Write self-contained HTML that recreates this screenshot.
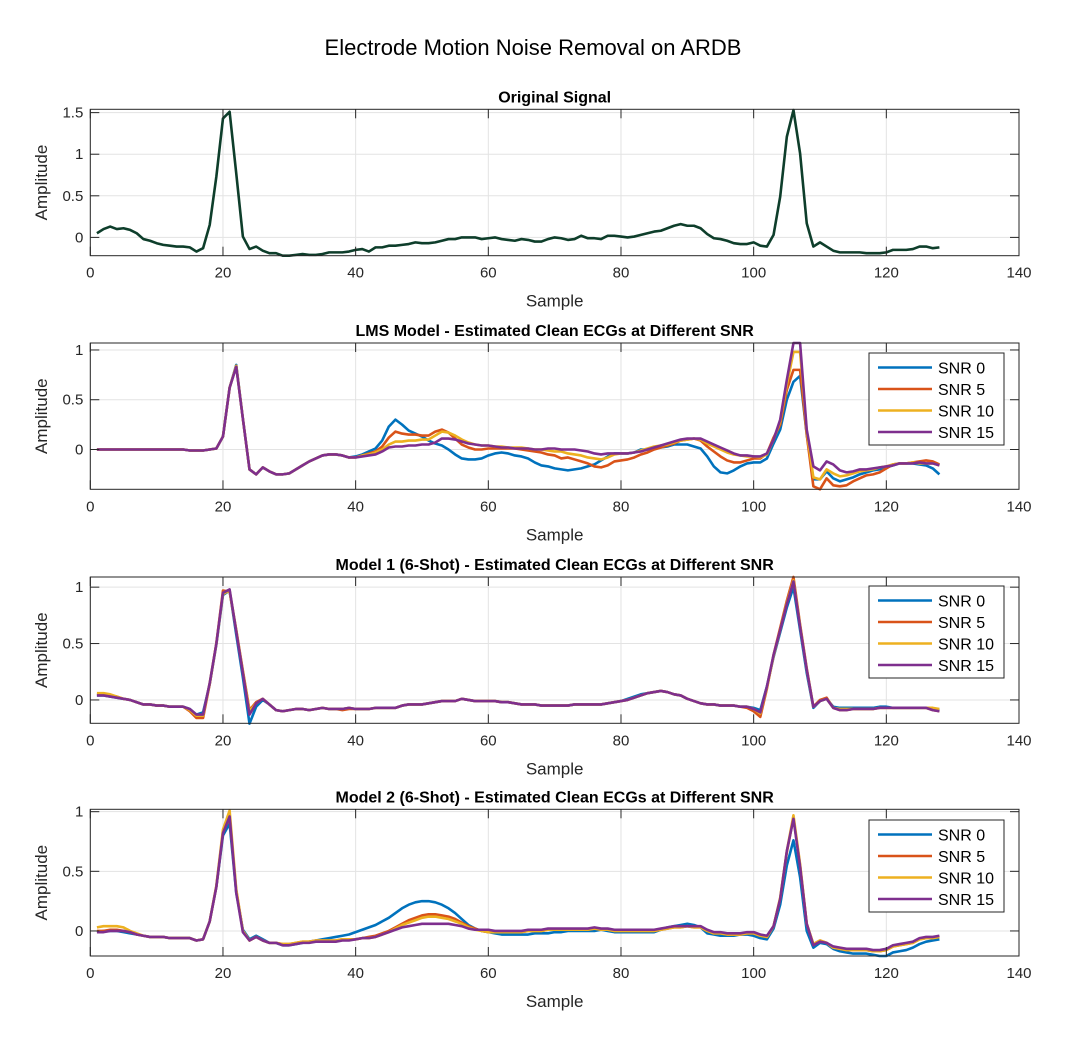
<!DOCTYPE html>
<html><head><meta charset="utf-8">
<style>
html,body{margin:0;padding:0;background:#fff;}
svg{display:block;font-family:"Liberation Sans",Arial,sans-serif;}
</style></head>
<body>
<svg id="fig" width="1088" height="1050" viewBox="0 0 1088 1050">
<text x="533" y="55" font-size="22" text-anchor="middle" fill="#000">Electrode Motion Noise Removal on ARDB</text>
</svg>
<script>
const xTicks=[0,20,40,60,80,100,140,120];
const origSignal=[0.05,0.10,0.13,0.10,0.11,0.09,0.05,-0.02,-0.04,-0.07,
-0.09,-0.10,-0.11,-0.11,-0.12,-0.17,-0.13,0.15,0.73,1.43,
1.51,0.77,0.01,-0.14,-0.11,-0.16,-0.19,-0.19,-0.22,-0.22,
-0.21,-0.20,-0.21,-0.21,-0.20,-0.18,-0.18,-0.18,-0.17,-0.15,
-0.14,-0.17,-0.12,-0.12,-0.10,-0.10,-0.09,-0.08,-0.06,-0.07,
-0.07,-0.06,-0.04,-0.02,-0.02,0,0,0,-0.02,-0.01,
0,-0.02,-0.03,-0.04,-0.02,-0.03,-0.05,-0.05,-0.02,0,
-0.01,-0.03,-0.02,0.02,-0.01,-0.01,-0.02,0.02,0.02,0.01,
0,0.01,0.03,0.05,0.07,0.08,0.11,0.14,0.16,0.14,
0.14,0.11,0.04,-0.01,-0.02,-0.04,-0.07,-0.08,-0.08,-0.06,
-0.10,-0.11,0.03,0.49,1.21,1.53,1.01,0.17,-0.11,-0.06,
-0.11,-0.16,-0.18,-0.18,-0.18,-0.18,-0.19,-0.19,-0.19,-0.18,
-0.15,-0.15,-0.15,-0.14,-0.11,-0.11,-0.13,-0.12];

const lmsSnr0=[0,0,0,0,0,0,0,0,0,0, 0,0,0,0,-0.01,-0.01,-0.01,0,0.01,0.13,
0.62,0.85,0.31,-0.20,-0.25,-0.18,-0.22,-0.25,-0.25,-0.24, -0.20,-0.16,-0.12,-0.09,-0.06,-0.05,-0.05,-0.06,-0.08,-0.07,
-0.05,-0.02,0.01,0.09,0.23,0.30,0.25,0.19,0.16,0.13, 0.09,0.06,0.04,0,-0.05,-0.09,-0.10,-0.10,-0.09,-0.06,
-0.04,-0.03,-0.04,-0.06,-0.07,-0.09,-0.13,-0.16,-0.17,-0.19, -0.20,-0.21,-0.20,-0.19,-0.17,-0.15,-0.11,-0.07,-0.04,-0.04,
-0.04,-0.03,0,0,0.01,0.02,0.03,0.05,0.05,0.05, 0.03,0.01,-0.07,-0.17,-0.23,-0.24,-0.21,-0.17,-0.14,-0.13,
-0.13,-0.09,0.06,0.20,0.50,0.68,0.74,0.15,-0.30,-0.30, -0.22,-0.29,-0.32,-0.30,-0.28,-0.25,-0.23,-0.21,-0.20,-0.18,
-0.16,-0.14,-0.14,-0.14,-0.15,-0.16,-0.19,-0.25];
const lmsSnr5=[0,0,0,0,0,0,0,0,0,0, 0,0,0,0,-0.01,-0.01,-0.01,0,0.01,0.13,
0.62,0.84,0.31,-0.20,-0.25,-0.18,-0.22,-0.25,-0.25,-0.24, -0.20,-0.16,-0.12,-0.09,-0.06,-0.05,-0.05,-0.06,-0.08,-0.08,
-0.06,-0.04,-0.02,0.03,0.12,0.18,0.16,0.15,0.15,0.14, 0.14,0.18,0.20,0.17,0.11,0.05,0.02,0,0,0.01,
0.01,0.01,0.01,0.01,0,-0.01,-0.02,-0.03,-0.05,-0.06, -0.09,-0.08,-0.10,-0.12,-0.14,-0.17,-0.18,-0.16,-0.12,-0.11,
-0.10,-0.08,-0.05,-0.03,0,0.02,0.04,0.06,0.09,0.10, 0.11,0.09,0.03,-0.02,-0.07,-0.11,-0.13,-0.13,-0.11,-0.09,
-0.09,-0.04,0.12,0.25,0.60,0.80,0.80,0.15,-0.37,-0.40, -0.29,-0.36,-0.37,-0.36,-0.32,-0.29,-0.26,-0.25,-0.23,-0.19,
-0.15,-0.14,-0.14,-0.13,-0.12,-0.11,-0.12,-0.15];
const lmsSnr10=[0,0,0,0,0,0,0,0,0,0, 0,0,0,0,-0.01,-0.01,-0.01,0,0.01,0.13,
0.62,0.84,0.31,-0.20,-0.25,-0.18,-0.22,-0.25,-0.25,-0.24, -0.20,-0.16,-0.12,-0.09,-0.06,-0.05,-0.05,-0.06,-0.08,-0.08,
-0.06,-0.05,-0.03,0,0.05,0.08,0.08,0.09,0.09,0.10, 0.10,0.14,0.18,0.17,0.14,0.10,0.07,0.05,0.04,0.04,
0.03,0.03,0.02,0.02,0.02,0.01,0,0,-0.01,-0.02, -0.02,-0.04,-0.05,-0.06,-0.08,-0.09,-0.10,-0.08,-0.05,-0.04,
-0.04,-0.03,-0.01,0.01,0.03,0.04,0.05,0.07,0.09,0.10, 0.11,0.10,0.06,0.03,0,-0.03,-0.05,-0.06,-0.07,-0.07,
-0.08,-0.05,0.10,0.28,0.65,0.98,0.98,0.18,-0.28,-0.30, -0.20,-0.24,-0.27,-0.26,-0.24,-0.22,-0.21,-0.20,-0.18,-0.17,
-0.15,-0.14,-0.14,-0.13,-0.14,-0.14,-0.14,-0.16];
const lmsSnr15=[0,0,0,0,0,0,0,0,0,0, 0,0,0,0,-0.01,-0.01,-0.01,0,0.01,0.13,
0.62,0.83,0.31,-0.20,-0.25,-0.18,-0.22,-0.25,-0.25,-0.24, -0.20,-0.16,-0.12,-0.09,-0.06,-0.05,-0.05,-0.06,-0.08,-0.08,
-0.07,-0.06,-0.05,-0.02,0.02,0.03,0.03,0.04,0.04,0.05, 0.05,0.07,0.11,0.11,0.10,0.08,0.06,0.05,0.04,0.04,
0.03,0.02,0.02,0.01,0.01,0.01,0,0,0.01,0.01, 0,0,0,-0.01,-0.02,-0.04,-0.05,-0.04,-0.04,-0.04,
-0.04,-0.03,-0.02,0,0.02,0.04,0.06,0.08,0.10,0.11, 0.11,0.11,0.08,0.05,0.02,-0.01,-0.04,-0.06,-0.06,-0.07,
-0.07,-0.04,0.10,0.30,0.70,1.07,1.07,0.20,-0.17,-0.21, -0.12,-0.15,-0.21,-0.23,-0.22,-0.20,-0.20,-0.19,-0.18,-0.17,
-0.16,-0.14,-0.14,-0.14,-0.13,-0.14,-0.14,-0.16];

const m1Snr0=[0.04,0.04,0.03,0.02,0.01,0,-0.02,-0.04,-0.04,-0.05,
-0.05,-0.06,-0.06,-0.06,-0.08,-0.13,-0.11,0.14,0.49,0.93,
0.97,0.58,0.20,-0.21,-0.06,0.00,-0.04,-0.09,-0.10,-0.09,
-0.08,-0.08,-0.09,-0.08,-0.07,-0.08,-0.08,-0.08,-0.07,-0.08,
-0.08,-0.08,-0.07,-0.07,-0.07,-0.07,-0.05,-0.04,-0.04,-0.04,
-0.03,-0.02,-0.01,-0.01,-0.01,0.01,0,-0.01,-0.01,-0.01,
-0.01,-0.02,-0.02,-0.03,-0.04,-0.04,-0.04,-0.05,-0.05,-0.05,
-0.05,-0.05,-0.04,-0.04,-0.04,-0.04,-0.04,-0.03,-0.02,-0.01,
0.01,0.03,0.05,0.06,0.07,0.08,0.07,0.05,0.04,0.01,
-0.01,-0.03,-0.04,-0.04,-0.05,-0.05,-0.05,-0.06,-0.06,-0.07,
-0.09,0.12,0.38,0.60,0.82,1.00,0.62,0.24,-0.07,-0.01,
0.01,-0.06,-0.07,-0.07,-0.07,-0.07,-0.07,-0.07,-0.06,-0.06,
-0.07,-0.07,-0.07,-0.07,-0.07,-0.07,-0.08,-0.09];
const m1Snr5=[0.05,0.05,0.04,0.03,0.01,0,-0.02,-0.04,-0.04,-0.05,
-0.05,-0.06,-0.06,-0.06,-0.10,-0.16,-0.16,0.14,0.50,0.97,
0.96,0.62,0.26,-0.09,-0.02,0.01,-0.04,-0.09,-0.10,-0.09,
-0.08,-0.08,-0.09,-0.08,-0.07,-0.08,-0.08,-0.09,-0.08,-0.08,
-0.08,-0.08,-0.07,-0.07,-0.07,-0.07,-0.05,-0.04,-0.04,-0.04,
-0.03,-0.02,-0.01,-0.01,-0.01,0.01,0,-0.01,-0.01,-0.01,
-0.01,-0.02,-0.02,-0.03,-0.04,-0.04,-0.04,-0.05,-0.05,-0.05,
-0.05,-0.05,-0.04,-0.04,-0.04,-0.04,-0.04,-0.03,-0.02,-0.01,
0,0.02,0.04,0.06,0.07,0.08,0.07,0.05,0.04,0.01,
-0.01,-0.03,-0.04,-0.04,-0.05,-0.05,-0.05,-0.06,-0.07,-0.10,
-0.15,0.10,0.40,0.64,0.88,1.09,0.67,0.28,-0.06,0.00,
0.02,-0.07,-0.09,-0.09,-0.08,-0.08,-0.08,-0.08,-0.07,-0.07,
-0.07,-0.07,-0.07,-0.07,-0.07,-0.07,-0.09,-0.10];
const m1Snr10=[0.06,0.06,0.05,0.03,0.01,0,-0.02,-0.04,-0.04,-0.05,
-0.05,-0.06,-0.06,-0.06,-0.09,-0.14,-0.14,0.15,0.50,0.94,
0.97,0.62,0.25,-0.10,-0.03,0.01,-0.04,-0.09,-0.10,-0.09,
-0.08,-0.08,-0.09,-0.08,-0.07,-0.08,-0.08,-0.08,-0.07,-0.08,
-0.08,-0.08,-0.07,-0.07,-0.07,-0.07,-0.05,-0.04,-0.04,-0.04,
-0.03,-0.02,-0.01,-0.01,-0.01,0.01,0,-0.01,-0.01,-0.01,
-0.01,-0.02,-0.02,-0.03,-0.04,-0.04,-0.04,-0.05,-0.05,-0.05,
-0.05,-0.05,-0.04,-0.04,-0.04,-0.04,-0.04,-0.03,-0.02,-0.01,
0,0.02,0.04,0.06,0.07,0.08,0.07,0.05,0.04,0.01,
-0.01,-0.03,-0.04,-0.04,-0.05,-0.05,-0.05,-0.06,-0.06,-0.08,
-0.12,0.11,0.39,0.62,0.86,1.06,0.66,0.27,-0.06,-0.01,
0.01,-0.07,-0.08,-0.08,-0.08,-0.08,-0.08,-0.08,-0.07,-0.07,
-0.07,-0.07,-0.07,-0.07,-0.07,-0.07,-0.07,-0.08];
const m1Snr15=[0.04,0.04,0.03,0.02,0.01,0,-0.02,-0.04,-0.04,-0.05,
-0.05,-0.06,-0.06,-0.06,-0.08,-0.13,-0.13,0.15,0.50,0.95,
0.98,0.61,0.24,-0.13,-0.03,0.01,-0.04,-0.09,-0.10,-0.09,
-0.08,-0.08,-0.09,-0.08,-0.07,-0.08,-0.08,-0.08,-0.07,-0.08,
-0.08,-0.08,-0.07,-0.07,-0.07,-0.07,-0.05,-0.04,-0.04,-0.04,
-0.03,-0.02,-0.01,-0.01,-0.01,0.01,0,-0.01,-0.01,-0.01,
-0.01,-0.02,-0.02,-0.03,-0.04,-0.04,-0.04,-0.05,-0.05,-0.05,
-0.05,-0.05,-0.04,-0.04,-0.04,-0.04,-0.04,-0.03,-0.02,-0.01,
0,0.02,0.04,0.06,0.07,0.08,0.07,0.05,0.04,0.01,
-0.01,-0.03,-0.04,-0.04,-0.05,-0.05,-0.05,-0.06,-0.06,-0.08,
-0.11,0.12,0.40,0.62,0.85,1.05,0.65,0.27,-0.06,-0.01,
0.01,-0.07,-0.09,-0.09,-0.08,-0.08,-0.08,-0.08,-0.07,-0.07,
-0.07,-0.07,-0.07,-0.07,-0.07,-0.07,-0.09,-0.10];

const m2Snr0=[-0.01,0,0,0,-0.01,-0.02,-0.03,-0.04,-0.05,-0.05,
-0.05,-0.06,-0.06,-0.06,-0.06,-0.08,-0.07,0.08,0.37,0.80,
0.90,0.32,0.01,-0.07,-0.04,-0.07,-0.10,-0.10,-0.12,-0.12,
-0.11,-0.10,-0.09,-0.08,-0.07,-0.06,-0.05,-0.04,-0.03,-0.01,
0.01,0.03,0.05,0.08,0.11,0.15,0.19,0.22,0.24,0.25,
0.25,0.24,0.22,0.19,0.15,0.10,0.05,0.02,0,-0.01,
-0.02,-0.03,-0.03,-0.03,-0.03,-0.03,-0.02,-0.02,-0.02,-0.01,
-0.01,0,0,0,0,0,0.01,0,-0.01,-0.01,
-0.01,-0.01,-0.01,-0.01,-0.01,0.01,0.03,0.04,0.05,0.06,
0.05,0.03,-0.02,-0.03,-0.04,-0.04,-0.04,-0.03,-0.03,-0.04,
-0.06,-0.07,0.02,0.22,0.55,0.76,0.45,0.00,-0.14,-0.10,
-0.11,-0.15,-0.17,-0.18,-0.19,-0.19,-0.19,-0.20,-0.21,-0.21,
-0.18,-0.17,-0.16,-0.14,-0.11,-0.09,-0.08,-0.07];
const m2Snr5=[0,0,0.01,0.01,0,-0.01,-0.03,-0.04,-0.05,-0.05,
-0.05,-0.06,-0.06,-0.06,-0.06,-0.08,-0.07,0.08,0.37,0.83,
0.95,0.34,0,-0.08,-0.05,-0.08,-0.10,-0.10,-0.11,-0.11,
-0.10,-0.09,-0.09,-0.08,-0.08,-0.08,-0.08,-0.07,-0.07,-0.07,
-0.06,-0.05,-0.04,-0.02,0,0.03,0.06,0.09,0.11,0.13,
0.14,0.14,0.13,0.12,0.10,0.07,0.04,0.02,0,-0.01,
-0.01,-0.01,-0.01,-0.01,-0.01,0,0,0,0.01,0.01,
0.01,0.01,0.01,0.01,0.01,0.02,0.01,0.01,0,0,
0,0,0,0,0,0.01,0.02,0.03,0.03,0.04,
0.03,0.03,0,-0.02,-0.02,-0.03,-0.03,-0.03,-0.02,-0.02,
-0.04,-0.05,0.04,0.27,0.66,0.95,0.55,0.06,-0.11,-0.08,
-0.10,-0.14,-0.15,-0.16,-0.16,-0.16,-0.16,-0.17,-0.17,-0.16,
-0.13,-0.12,-0.11,-0.10,-0.07,-0.06,-0.06,-0.05];
const m2Snr10=[0.03,0.04,0.04,0.04,0.03,0,-0.02,-0.04,-0.05,-0.05,
-0.05,-0.06,-0.06,-0.06,-0.06,-0.08,-0.07,0.08,0.38,0.85,
1.01,0.35,0,-0.08,-0.05,-0.08,-0.10,-0.10,-0.11,-0.11,
-0.10,-0.09,-0.09,-0.08,-0.08,-0.08,-0.08,-0.07,-0.07,-0.07,
-0.06,-0.06,-0.05,-0.03,-0.01,0.02,0.05,0.07,0.09,0.11,
0.12,0.12,0.11,0.10,0.08,0.06,0.03,0.01,0,-0.01,
-0.01,-0.01,-0.01,-0.01,-0.01,0,0,0,0.01,0.01,
0.01,0.01,0.01,0.01,0.01,0.02,0.01,0.01,0,0,
0,0,0,0,0,0.01,0.02,0.03,0.03,0.04,
0.03,0.03,0,-0.02,-0.02,-0.03,-0.03,-0.03,-0.02,-0.02,
-0.04,-0.05,0.04,0.28,0.67,0.97,0.56,0.06,-0.11,-0.08,
-0.10,-0.14,-0.15,-0.16,-0.16,-0.16,-0.16,-0.17,-0.17,-0.16,
-0.13,-0.12,-0.11,-0.10,-0.07,-0.06,-0.06,-0.05];
const m2Snr15=[-0.01,-0.01,0,0,0,-0.01,-0.03,-0.04,-0.05,-0.05,
-0.05,-0.06,-0.06,-0.06,-0.06,-0.08,-0.07,0.08,0.37,0.82,
0.96,0.32,-0.01,-0.08,-0.05,-0.08,-0.10,-0.10,-0.12,-0.12,
-0.11,-0.10,-0.10,-0.09,-0.09,-0.09,-0.09,-0.08,-0.08,-0.07,
-0.06,-0.06,-0.05,-0.03,-0.01,0.01,0.03,0.04,0.05,0.06,
0.06,0.06,0.06,0.06,0.05,0.04,0.02,0.01,0.01,0.01,
0,0,0,0,0,0.01,0.01,0.01,0.02,0.02,
0.02,0.02,0.02,0.02,0.02,0.03,0.02,0.02,0.01,0.01,
0.01,0.01,0.01,0.01,0.01,0.02,0.03,0.04,0.04,0.04,
0.04,0.04,0.01,-0.01,-0.01,-0.02,-0.02,-0.02,-0.01,-0.01,
-0.03,-0.04,0.04,0.27,0.67,0.94,0.54,0.06,-0.12,-0.09,
-0.10,-0.13,-0.14,-0.15,-0.15,-0.15,-0.15,-0.16,-0.16,-0.15,
-0.12,-0.11,-0.10,-0.09,-0.06,-0.05,-0.05,-0.04];

const snrLabels=["SNR 0","SNR 5","SNR 10","SNR 15"];
const snrColors=["#0072BD","#D95319","#EDB120","#7E2F8E"];

const NS="http://www.w3.org/2000/svg";
const svg=document.getElementById("fig");
function mk(tag,attrs,parent){const e=document.createElementNS(NS,tag);for(const k in attrs)e.setAttribute(k,attrs[k]);(parent||svg).appendChild(e);return e;}

const AX_L=90.3, AX_R=1019, XMIN=0, XMAX=140;
function xScale(v){return AX_L+(v-XMIN)/(XMAX-XMIN)*(AX_R-AX_L);}

function drawPanel(p){
  const g=mk("g",{});
  
  
  const yScale=v=>p.bottom-(v-p.ymin)/(p.ymax-p.ymin)*(p.bottom-p.top);
  // grid
  xTicks.forEach(t=>{const x=xScale(t);
    const gl=mk("line",{x1:x,x2:x,y1:p.top,y2:p.bottom,stroke:"#e3e3e3","stroke-width":1},g);
    
    
  });
  p.yticks.forEach(t=>{const y=yScale(t);
    const gl=mk("line",{x1:AX_L,x2:AX_R,y1:y,y2:y,stroke:"#e3e3e3","stroke-width":1},g);
    
    
  });
  // series
  const clipId="clip-"+p.name;
  const cp=mk("clipPath",{id:clipId},g);mk("rect",{x:AX_L,y:p.top-2,width:AX_R-AX_L,height:p.bottom-p.top+4},cp);
  p.series.forEach((s,i)=>{
    const pts=s.data.map((v,k)=>xScale(k+1).toFixed(2)+","+yScale(v).toFixed(2)).join(" ");
    const pl=mk("polyline",{points:pts,fill:"none",stroke:s.color,"stroke-width":2.6,"stroke-linejoin":"round","clip-path":"url(#"+clipId+")"},g);
    
    
  });
  // axes box
  const box=mk("rect",{x:AX_L,y:p.top,width:AX_R-AX_L,height:p.bottom-p.top,fill:"none",stroke:"#262626","stroke-width":1},g);
  
  
  xTicks.forEach(t=>{const x=xScale(t);
    mk("line",{x1:x,x2:x,y1:p.bottom,y2:p.bottom-9,stroke:"#262626","stroke-width":1},g);
    mk("line",{x1:x,x2:x,y1:p.top,y2:p.top+9,stroke:"#262626","stroke-width":1},g);
    const tl=mk("text",{x:x,y:p.bottom+22,"font-size":15,"text-anchor":"middle",fill:"#262626"},g);
    tl.textContent=t;
    
    
  });
  p.yticks.forEach(t=>{const y=yScale(t);
    mk("line",{x1:AX_L,x2:AX_L+9,y1:y,y2:y,stroke:"#262626","stroke-width":1},g);
    mk("line",{x1:AX_R,x2:AX_R-9,y1:y,y2:y,stroke:"#262626","stroke-width":1},g);
    const tl=mk("text",{x:AX_L-7,y:y+5,"font-size":15,"text-anchor":"end",fill:"#262626"},g);
    tl.textContent=t;
    
    
  });
  const ttl=mk("text",{x:(AX_L+AX_R)/2,y:p.top-7,"font-size":16,"font-weight":"bold","text-anchor":"middle",fill:"#000"},g);
  ttl.textContent=p.title;
  
  
  const xl=mk("text",{x:(AX_L+AX_R)/2,y:p.bottom+51,"font-size":17,"text-anchor":"middle",fill:"#262626"},g);
  xl.textContent="Sample";
  
  
  const yc=(p.top+p.bottom)/2;
  const yl=mk("text",{x:47,y:yc,"font-size":17,"text-anchor":"middle",fill:"#262626",transform:"rotate(-90 47 "+yc+")"},g);
  yl.textContent="Amplitude";
  
  
  if(p.legendTop){
    const lg=mk("g",{},g);
    
    
    mk("rect",{x:869,y:p.legendTop,width:135,height:92,fill:"#fff",stroke:"#262626","stroke-width":1},lg);
    p.series.forEach((s,i)=>{
      const y=p.legendTop+14.5+i*21.5;
      const ent=mk("g",{},lg);
      
      
      mk("line",{x1:878,x2:932,y1:y,y2:y,stroke:s.color,"stroke-width":2.6},ent);
      const t=mk("text",{x:938,y:y+6,"font-size":16,fill:"#000"},ent);
      t.textContent=snrLabels[i];
    });
  }
}

drawPanel({name:"original-signal-panel",title:"Original Signal",top:109.3,bottom:255.7,ymin:-0.22,ymax:1.54,yticks:[0,0.5,1,1.5],
  series:[{id:"original-signal-line",color:"#0E3E2B",data:origSignal}]});
drawPanel({name:"lms-panel",title:"LMS Model - Estimated Clean ECGs at Different SNR",top:343,bottom:489.3,ymin:-0.4,ymax:1.07,yticks:[0,0.5,1],legendTop:353,
  series:[{id:"lms-snr0-line",color:snrColors[0],data:lmsSnr0},{id:"lms-snr5-line",color:snrColors[1],data:lmsSnr5},{id:"lms-snr10-line",color:snrColors[2],data:lmsSnr10},{id:"lms-snr15-line",color:snrColors[3],data:lmsSnr15}]});
drawPanel({name:"model1-panel",title:"Model 1 (6-Shot) - Estimated Clean ECGs at Different SNR",top:577,bottom:723.3,ymin:-0.207,ymax:1.09,yticks:[0,0.5,1],legendTop:586,
  series:[{id:"model1-snr0-line",color:snrColors[0],data:m1Snr0},{id:"model1-snr5-line",color:snrColors[1],data:m1Snr5},{id:"model1-snr10-line",color:snrColors[2],data:m1Snr10},{id:"model1-snr15-line",color:snrColors[3],data:m1Snr15}]});
drawPanel({name:"model2-panel",title:"Model 2 (6-Shot) - Estimated Clean ECGs at Different SNR",top:809.3,bottom:956,ymin:-0.21,ymax:1.02,yticks:[0,0.5,1],legendTop:820,
  series:[{id:"model2-snr0-line",color:snrColors[0],data:m2Snr0},{id:"model2-snr5-line",color:snrColors[1],data:m2Snr5},{id:"model2-snr10-line",color:snrColors[2],data:m2Snr10},{id:"model2-snr15-line",color:snrColors[3],data:m2Snr15}]});
</script>
</body></html>
